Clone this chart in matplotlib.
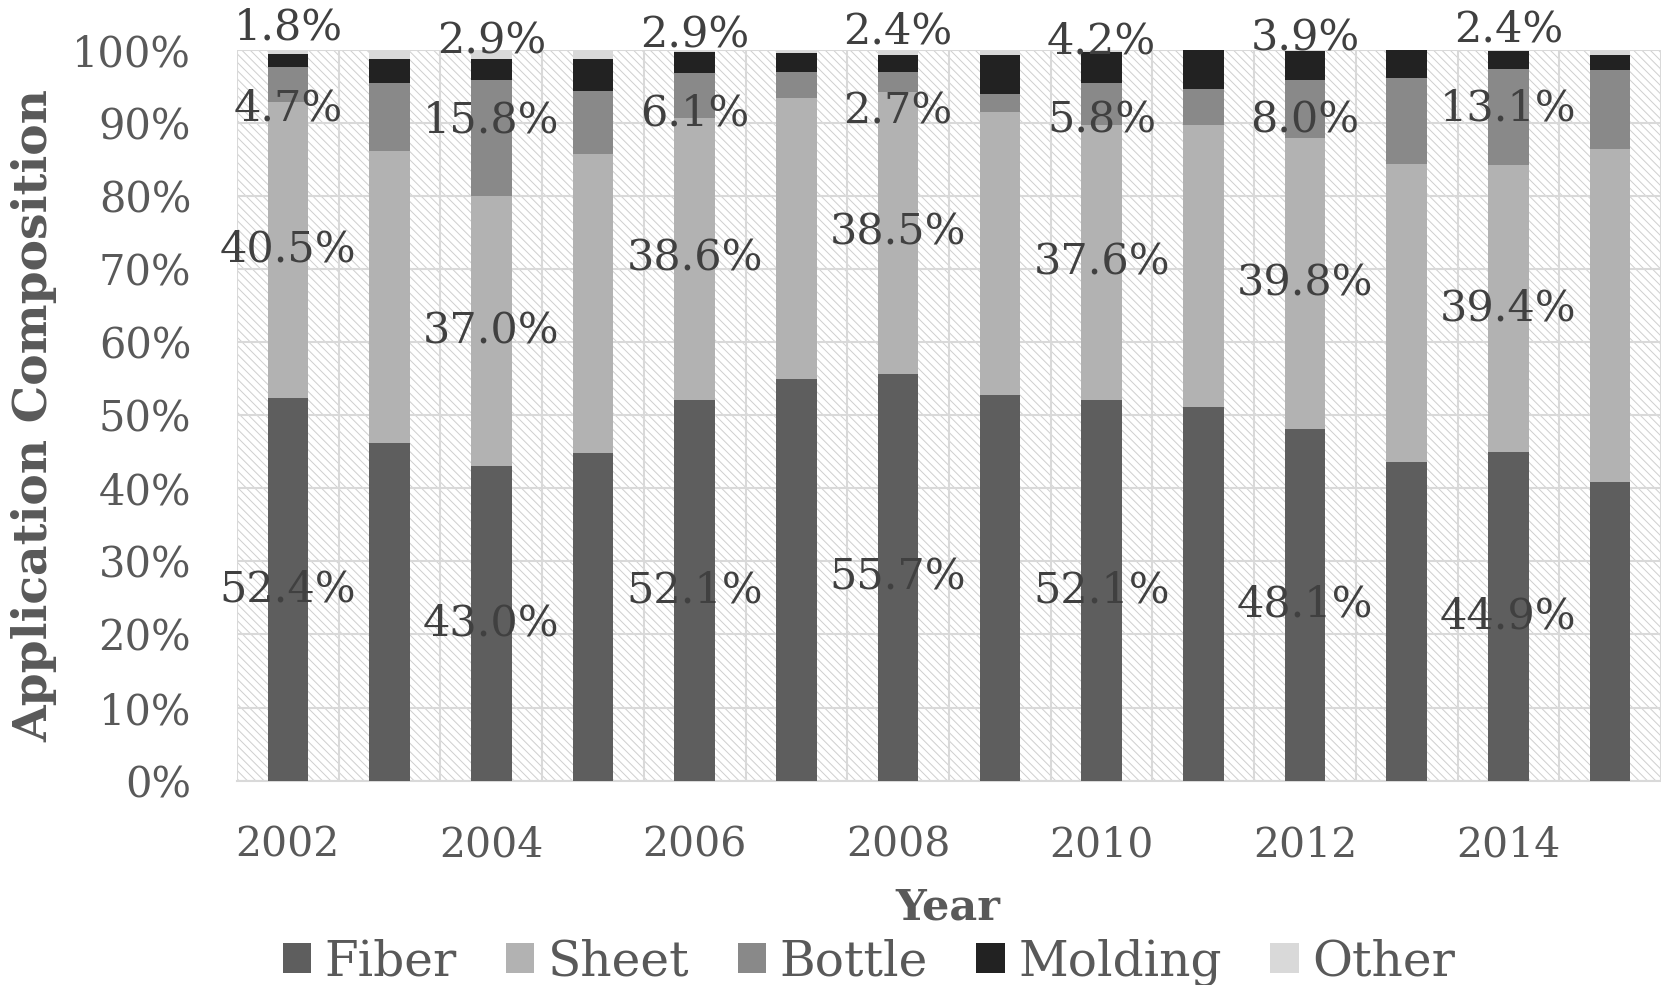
import matplotlib
matplotlib.use("Agg")
import matplotlib.pyplot as plt
from matplotlib.patches import Rectangle
import numpy as np

# ---- data (percent of application composition) ----
years = [2002, 2003, 2004, 2005, 2006, 2007, 2008, 2009, 2010, 2011, 2012, 2013, 2014, 2015]
fiber   = [52.4, 46.2, 43.0, 44.8, 52.1, 54.9, 55.7, 52.8, 52.1, 51.1, 48.1, 43.6, 44.9, 40.9]
sheet   = [40.5, 40.0, 37.0, 40.9, 38.6, 38.5, 38.5, 38.7, 37.6, 38.6, 39.8, 40.8, 39.4, 45.5]
bottle  = [4.7, 9.3, 15.8, 8.7, 6.1, 3.6, 2.7, 2.5, 5.8, 5.0, 8.0, 11.8, 13.1, 10.8]
molding = [1.8, 3.2, 2.9, 4.4, 2.9, 2.5, 2.4, 5.3, 4.2, 5.3, 3.9, 3.8, 2.4, 2.1]
other   = [0.6, 1.3, 1.3, 1.2, 0.3, 0.5, 0.7, 0.7, 0.3, 0.0, 0.2, 0.0, 0.2, 0.7]

series_names = ["Fiber", "Sheet", "Bottle", "Molding", "Other"]
series_vals = [fiber, sheet, bottle, molding, other]
series_colors = ["#5e5e5e", "#b2b2b2", "#898989", "#222222", "#d9d9d9"]

y_ticks = list(range(0, 101, 10))
labeled_years = [2002, 2004, 2006, 2008, 2010, 2012, 2014]
# label anchor heights (percent) for the small segments, as placed in the original
bottle_label_y = [92.0, 90.3, 91.3, 91.6, 90.3, 90.3, 91.9]
molding_label_y = [103.1, 101.2, 102.0, 102.5, 101.2, 101.5, 102.8]

plt.rcParams["font.family"] = ["DejaVu Serif", "DejaVu Sans"]
plt.rcParams["hatch.linewidth"] = 0.7

TXT = "#595959"
LBL = "#404040"
GRID = "#d9d9d9"

fig = plt.figure(figsize=(16.61, 9.85), dpi=100)
ax = fig.add_axes([237 / 1661, 1 - 780.6 / 985, 1 - 237 / 1661, (780.6 - 49.8) / 985])

# hatched plot-area background
ax.patch.set_facecolor("white")
ax.add_patch(Rectangle((0, 0), 1, 1, transform=ax.transAxes, facecolor="white",
                       edgecolor="#cfcfcf", lw=0, hatch="\\\\\\\\", zorder=0.1))

x = np.arange(len(years))
bottom = np.zeros(len(years))
for name, vals, col in zip(series_names, series_vals, series_colors):
    ax.bar(x, vals, 0.4, bottom=bottom, color=col, label=name, zorder=3, linewidth=0)
    bottom = bottom + np.array(vals)

# data labels
fs_lbl = 31
k = 0
for i, yr in enumerate(years):
    if yr not in labeled_years:
        continue
    ax.text(x[i], fiber[i] / 2, f"{fiber[i]:.1f}%", ha="center", va="center",
            fontsize=fs_lbl, color=LBL, zorder=5)
    ax.text(x[i], fiber[i] + sheet[i] / 2, f"{sheet[i]:.1f}%", ha="center", va="center",
            fontsize=fs_lbl, color=LBL, zorder=5)
    ax.text(x[i], bottle_label_y[k], f"{bottle[i]:.1f}%", ha="center", va="center",
            fontsize=fs_lbl, color=LBL, zorder=5)
    ax.text(x[i], molding_label_y[k], f"{molding[i]:.1f}%", ha="center", va="center",
            fontsize=fs_lbl, color=LBL, zorder=5, clip_on=False)
    k += 1

ax.set_xlim(-0.5, len(years) - 0.5)
ax.set_ylim(0, 100)
ax.set_yticks(y_ticks)
ax.set_yticklabels([f"{t}%" for t in y_ticks])
major_idx = [i for i, yr in enumerate(years) if yr in labeled_years]
ax.set_xticks(major_idx)
ax.set_xticklabels([str(years[i]) for i in major_idx])
ax.set_xticks(np.arange(-0.5, len(years), 1.0), minor=True)

ax.tick_params(axis="y", length=0, pad=33, labelsize=30, labelcolor=TXT)
ax.tick_params(axis="x", which="both", length=0, pad=32, labelsize=29.5, labelcolor=TXT)

ax.set_axisbelow(True)
ax.yaxis.grid(True, color=GRID, lw=1.5, zorder=0.5)
ax.xaxis.grid(True, which="minor", color=GRID, lw=1.5, zorder=0.5)
ax.xaxis.grid(False, which="major")
for s in ["top", "right", "left"]:
    ax.spines[s].set_visible(False)
ax.spines["bottom"].set_color(GRID)
ax.spines["bottom"].set_linewidth(1.5)

fig.text(34 / 1661, 1 - 415 / 985, "Application Composition", rotation=90,
         ha="center", va="center", fontsize=34, fontweight="bold", color=TXT)
fig.text(948 / 1661, 1 - 908 / 985, "Year", ha="center", va="center",
         fontsize=31, fontweight="bold", color=TXT)

fig.legend(loc="center", bbox_to_anchor=(869 / 1661, 1 - 962 / 985), ncol=5,
           frameon=False, fontsize=35, handlelength=0.58, handleheight=0.58,
           handletextpad=0.28, columnspacing=1.0, labelcolor=TXT, borderpad=0)

fig.savefig("out.png", dpi=100)
